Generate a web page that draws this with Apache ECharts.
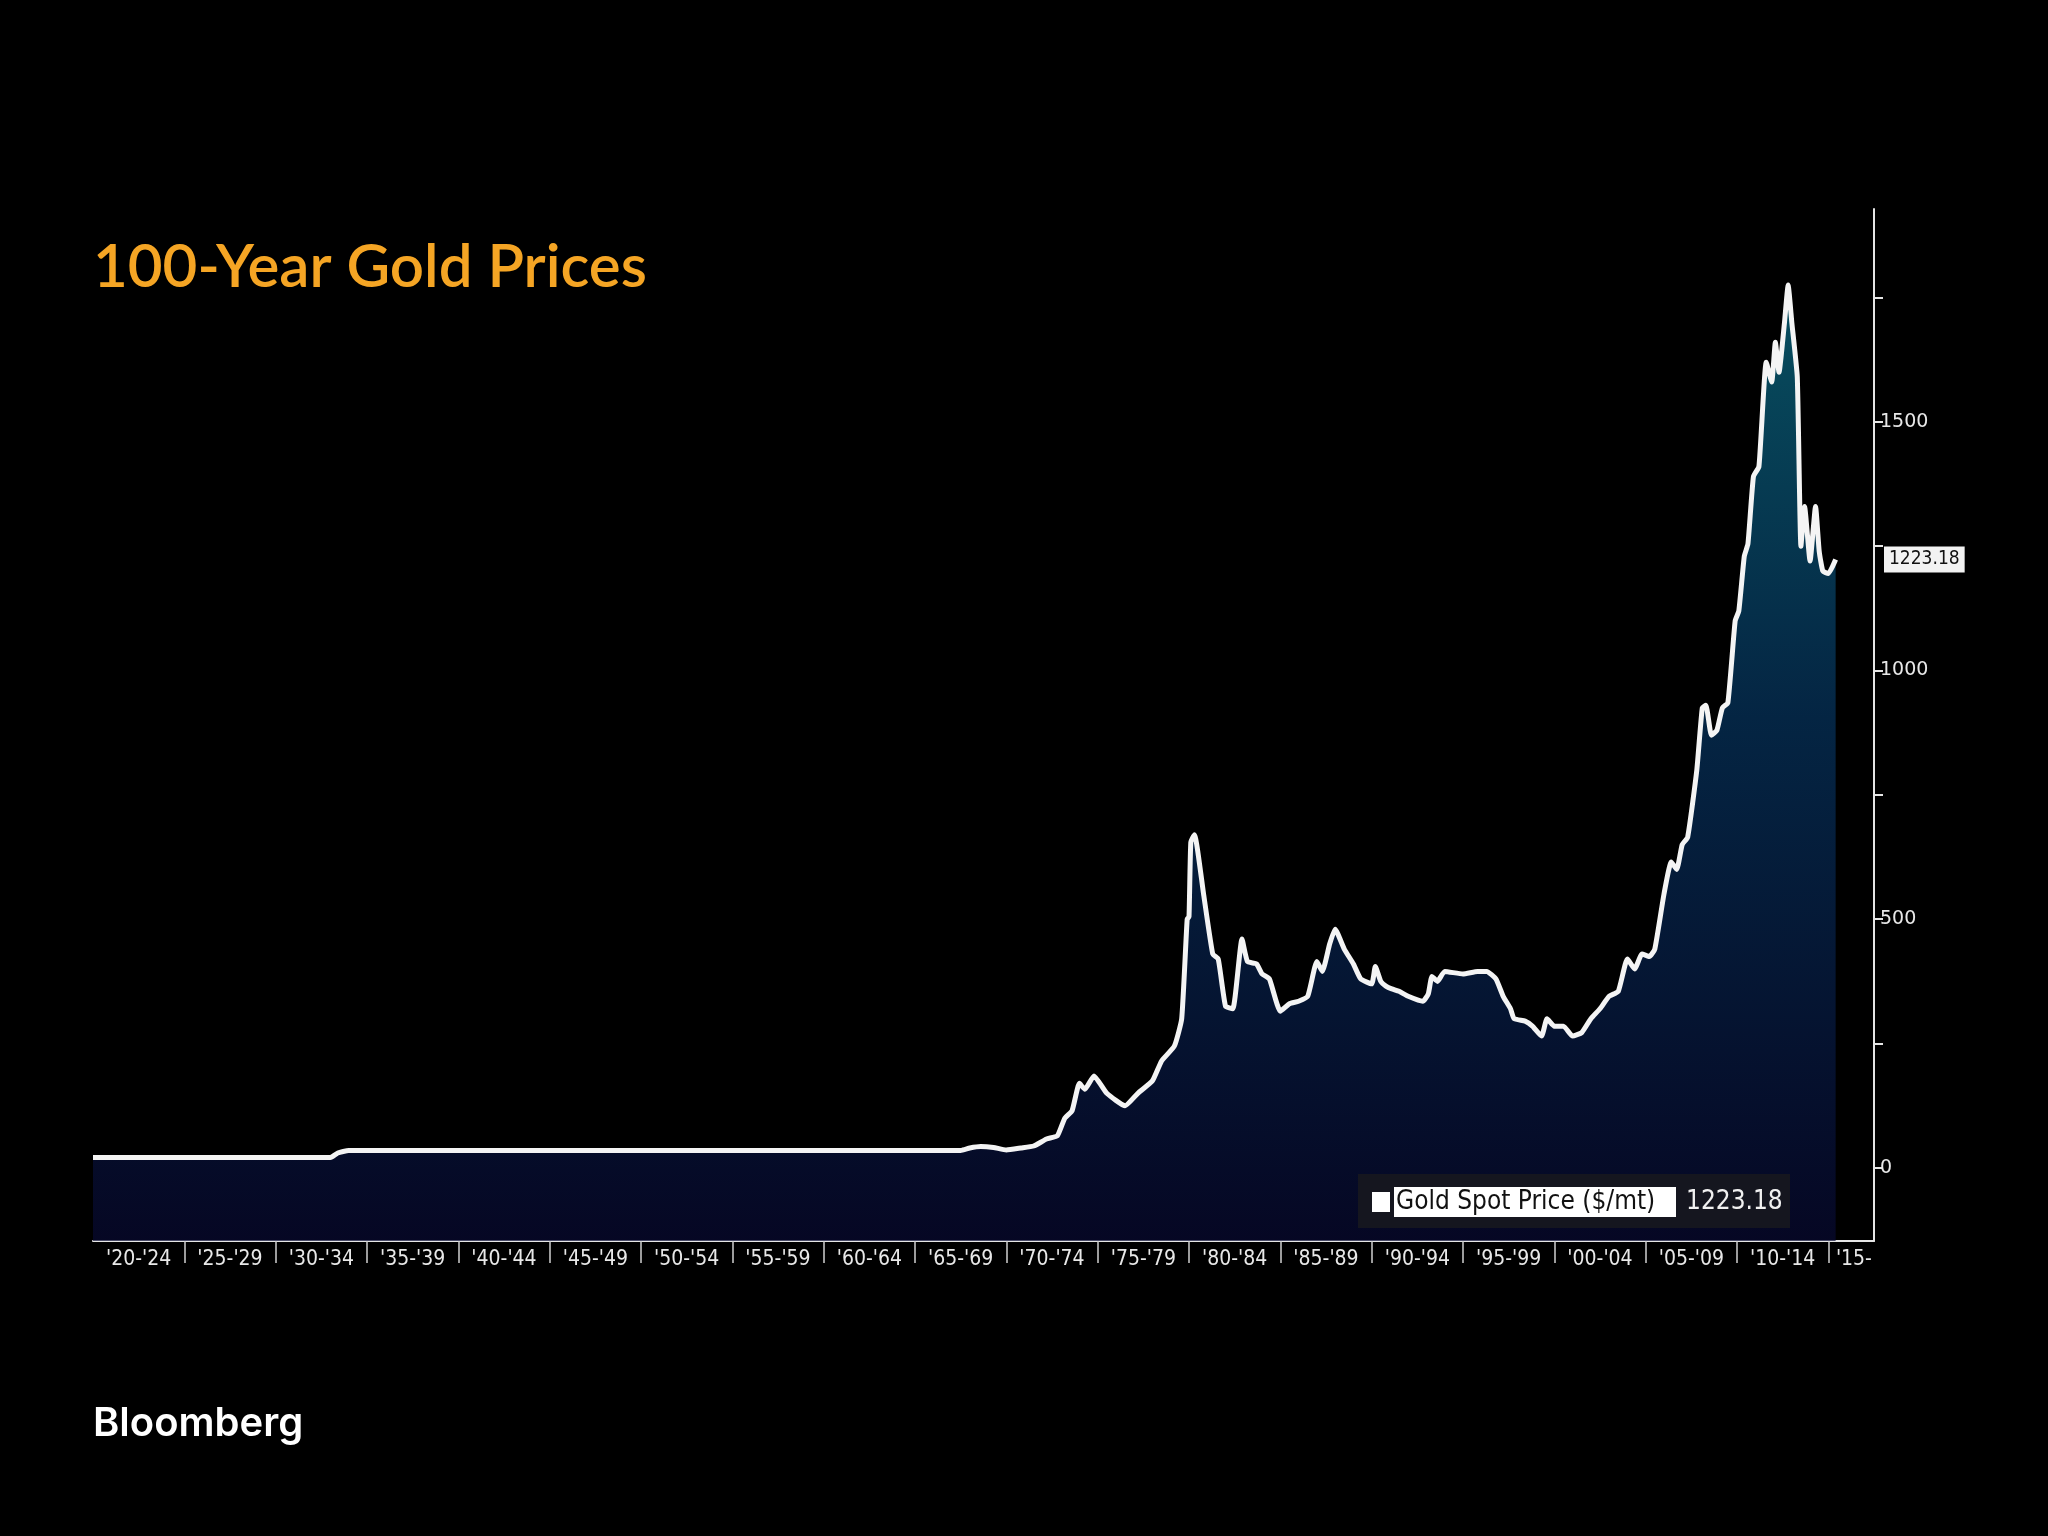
<!DOCTYPE html>
<html>
<head>
<meta charset="utf-8">
<script src="https://cdn.jsdelivr.net/npm/echarts@6/dist/echarts.min.js"></script>
<style>
html, body { margin: 0; padding: 0; background: #000; }
#chart { width: 2048px; height: 1536px; }
</style>
</head>
<body>
<div id="chart"></div>
<script>
// year (decimal), price $/oz
var years = [1920, 1933.0, 1933.4, 1934.0, 1967.5, 1968.0, 1968.6, 1969.3, 1970.0, 1970.8, 1971.5, 1972.2, 1972.8, 1973.2,
	1973.6, 1974.0, 1974.3, 1974.8, 1975.5, 1976.5, 1977.2, 1978.0, 1978.5, 1979.2, 1979.6, 1979.9, 1980.0, 1980.1, 1980.3,
	1980.8, 1981.3, 1981.6, 1982.0, 1982.4, 1982.9, 1983.2, 1983.7, 1984.0, 1984.4, 1985.0, 1985.5, 1986.0, 1986.5, 1987.0,
	1987.3, 1987.7, 1988.0, 1988.5, 1989.0, 1989.4, 1990.0, 1990.2, 1990.5, 1990.8, 1991.1, 1991.5, 1992.0, 1992.8, 1993.1,
	1993.3, 1993.6, 1994.0, 1995.0, 1995.8, 1996.3, 1996.8, 1997.2, 1997.6, 1997.8, 1998.4, 1998.8, 1999.3, 1999.6, 2000.0,
	2000.5, 2001.0, 2001.5, 2002.0, 2002.5, 2003.0, 2003.5, 2004.0, 2004.4, 2004.8, 2005.2, 2005.5, 2006.0, 2006.4, 2006.7,
	2007.0, 2007.3, 2007.8, 2008.1, 2008.3, 2008.6, 2008.9, 2009.2, 2009.5, 2009.9, 2010.1, 2010.4, 2010.6, 2010.9, 2011.2,
	2011.6, 2011.9, 2012.1, 2012.3, 2012.6, 2012.8, 2013.0, 2013.3, 2013.5, 2013.7, 2014.0, 2014.3, 2014.5, 2014.7, 2015.0, 2015.4];
var prices = [20.67, 20.67, 30, 35, 35, 40, 43, 41, 36, 40, 44, 58, 65, 100,
	115, 170, 158, 185, 150, 125, 150, 175, 215, 245, 300, 500, 505, 655, 670,
	550, 430, 420, 325, 320, 460, 415, 410, 390, 380, 315, 330, 335, 345, 415,
	395, 450, 480, 440, 410, 380, 370, 405, 375, 365, 360, 355, 345, 335, 350,
	385, 375, 395, 390, 395, 395, 380, 345, 320, 300, 295, 285, 265, 300, 285,
	285, 265, 272, 300, 320, 345, 355, 420, 400, 430, 425, 440, 550, 615, 600,
	650, 665, 800, 925, 930, 870, 880, 925, 935, 1100, 1120, 1230, 1255, 1390, 1410,
	1620, 1580, 1660, 1600, 1700, 1775, 1700, 1590, 1250, 1330, 1220, 1330, 1240, 1200, 1195, 1223.18];
var lastValue = 1223.18;
var tickYears = [1925, 1930, 1935, 1940, 1945, 1950, 1955, 1960, 1965, 1970, 1975, 1980, 1985, 1990, 1995, 2000, 2005, 2010, 2015];
var periodLabels = ["'20-'24", "'25-'29", "'30-'34", "'35-'39", "'40-'44", "'45-'49", "'50-'54", "'55-'59", "'60-'64", "'65-'69",
	"'70-'74", "'75-'79", "'80-'84", "'85-'89", "'90-'94", "'95-'99", "'00-'04", "'05-'09", "'10-'14", "'15-"];
var periodCenters = [1922.5, 1927.5, 1932.5, 1937.5, 1942.5, 1947.5, 1952.5, 1957.5, 1962.5, 1967.5,
	1972.5, 1977.5, 1982.5, 1987.5, 1992.5, 1997.5, 2002.5, 2007.5, 2012.5, 2016.4];
var yTicks = [0, 250, 500, 750, 1000, 1250, 1500, 1750];
var yLabels = [0, 500, 1000, 1500];

var seriesData = years.map(function(y, i) { return [y, prices[i]]; });
var labelMap = {};
periodCenters.forEach(function(c, i) { labelMap[c] = periodLabels[i]; });

var chart = echarts.init(document.getElementById('chart'));
chart.setOption({
	backgroundColor: '#000',
	animation: false,
	grid: { left: 93, right: 174, top: 209, bottom: 295 },
	xAxis: {
		type: 'value',
		min: 1920,
		max: 2017.5,
		axisLine: { show: true, onZero: false, lineStyle: { color: '#e6e6e6', width: 2 } },
		axisTick: { show: true, customValues: tickYears, length: 22, lineStyle: { color: '#cfcfcf', width: 1.5 } },
		axisLabel: {
			customValues: periodCenters,
			formatter: function(v) { return labelMap[v] || ''; },
			color: '#e8e8e8',
			fontSize: 21,
			fontFamily: 'DejaVu Sans Condensed, Liberation Sans Narrow, sans-serif',
			margin: 8
		},
		splitLine: { show: false }
	},
	yAxis: {
		type: 'value',
		position: 'right',
		min: -147,
		max: 1928,
		axisLine: { show: true, lineStyle: { color: '#e6e6e6', width: 2 } },
		axisTick: { show: true, customValues: yTicks, length: 9, lineStyle: { color: '#e6e6e6', width: 2 } },
		axisLabel: {
			customValues: yLabels,
			formatter: function(v) { return String(v); },
			color: '#e8e8e8',
			fontSize: 19,
			fontFamily: 'DejaVu Sans, sans-serif',
			margin: 6
		},
		splitLine: { show: false }
	},
	series: [{
		type: 'line',
		data: seriesData,
		symbol: 'none',
		smooth: 0.15,
		lineStyle: { color: '#f4f4f4', width: 5 },
		areaStyle: {
			origin: 'start',
			color: new echarts.graphic.LinearGradient(0, 0, 0, 1, [
				{ offset: 0, color: '#0b7088' },
				{ offset: 0.45, color: '#063560' },
				{ offset: 1, color: '#080a33' }
			])
		},
		markLine: {
			silent: true,
			symbol: 'none',
			data: [{ yAxis: lastValue }],
			lineStyle: { color: 'rgba(0,0,0,0)', width: 0 },
			label: {
				show: true,
				position: 'end',
				distance: 10,
				formatter: '1223.18',
				color: '#111',
				backgroundColor: '#f2f2f2',
				padding: [4, 5, 3, 5],
				fontSize: 19,
				fontFamily: 'DejaVu Sans Condensed, sans-serif'
			}
		}
	}],
	graphic: [
		{ type: 'text', left: 93, top: 238, z: 100, style: { text: '100-Year Gold Prices', fill: '#f5a524', font: '600 60px Lato, "Open Sans", sans-serif' } },
		{ type: 'text', left: 93, top: 1404, z: 100, style: { text: 'Bloomberg', fill: '#ffffff', font: '600 40px Inter, "Open Sans", sans-serif' } },
		{ type: 'rect', z: 100, shape: { x: 1358, y: 1174, width: 432, height: 54 }, style: { fill: '#15161f' } },
		{ type: 'rect', z: 101, shape: { x: 1372, y: 1192, width: 18, height: 20 }, style: { fill: '#ffffff' } },
		{ type: 'rect', z: 101, shape: { x: 1394, y: 1187, width: 282, height: 30 }, style: { fill: '#ffffff' } },
		{ type: 'text', z: 102, x: 1396, y: 1202, style: { text: 'Gold Spot Price ($/mt)', fill: '#111', font: '26px "DejaVu Sans Condensed", sans-serif', textVerticalAlign: 'middle' } },
		{ type: 'text', z: 102, x: 1686, y: 1202, style: { text: '1223.18', fill: '#f0f0f0', font: '26px "DejaVu Sans Condensed", sans-serif', textVerticalAlign: 'middle' } }
	]
});
</script>
</body>
</html>
